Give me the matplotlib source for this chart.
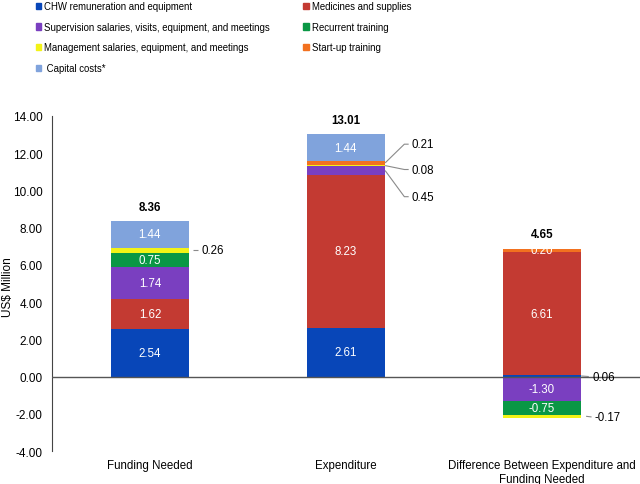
import matplotlib
matplotlib.use("Agg")
import matplotlib.pyplot as plt
from matplotlib.patches import Patch
import numpy as np

plt.rcParams['font.family'] = ['Liberation Sans', 'DejaVu Sans']

categories = ["Funding Needed", "Expenditure", "Difference Between Expenditure and\nFunding Needed"]
series_names = ["CHW remuneration and equipment", "Medicines and supplies",
                "Supervision salaries, visits, equipment, and meetings", "Recurrent training",
                "Management salaries, equipment, and meetings", "Start-up training",
                " Capital costs*"]
chw = [2.54, 2.61, 0.06]
medicines = [1.62, 8.23, 6.61]
supervision = [1.74, 0.45, -1.30]
recurrent = [0.75, 0.00, -0.75]
management = [0.26, 0.08, -0.17]
startup = [0.00, 0.21, 0.20]
capital = [1.44, 1.44, 0.00]
totals = [8.36, 13.01, 4.65]

series = [chw, medicines, supervision, recurrent, management, startup, capital]
colors = ["#0846b8", "#c33a32", "#7a3fc0", "#0a9745", "#f3f316", "#f2711f", "#80a3dc"]

inside = [
    [True, True, True, True, False, None, True],
    [True, True, False, None, False, False, True],
    [False, True, True, True, False, True, None],
]
# outside labels: (text x offset from bar edge, text y or None=segment centre, line start offset)
outside = {(0, 4): (0.062, None, 0.022),
           (1, 5): (0.137, 12.48, 0.0), (1, 4): (0.137, 11.12, 0.0),
           (1, 2): (0.137, 9.66, 0.0),
           (2, 0): (0.056, 0.0, 0.0), (2, 4): (0.07, -2.17, 0.025)}

fig = plt.figure(figsize=(6.4, 4.85), dpi=100)
ax = fig.add_axes([0.081, 0.068, 0.919, 0.691])

x = np.arange(len(categories))
width = 0.4
pos_base = np.zeros(len(categories))
neg_base = np.zeros(len(categories))
for si, (vals, col) in enumerate(zip(series, colors)):
    vals = np.array(vals, dtype=float)
    bottoms = np.where(vals >= 0, pos_base, neg_base)
    ax.bar(x, vals, width, bottom=bottoms, color=col, linewidth=0, zorder=2)
    for ci in range(len(categories)):
        v = vals[ci]
        if v == 0:
            continue
        center = bottoms[ci] + v / 2
        flag = inside[ci][si]
        if flag:
            ax.text(x[ci], center, f"{v:.2f}", ha='center', va='center',
                    color='white', fontsize=8.3, zorder=4)
        elif flag is False:
            tdx, ty, ldx = outside[(ci, si)]
            if ty is None:
                ty = center
            x0 = x[ci] + width / 2
            xend = x0 + tdx - 0.017
            if abs(ty - center) > 0.2:
                xs = [x0 + ldx, xend - 0.022, xend]
                ys = [center, ty, ty]
            else:
                xs = [x0 + ldx, xend]
                ys = [center, ty]
            ax.plot(xs, ys, color='#8a8a8a', lw=0.8, zorder=4, solid_capstyle='butt')
            ax.text(x0 + tdx, ty, f"{v:.2f}", ha='left', va='center',
                    fontsize=8.3, color='black', zorder=4)
    pos_base = pos_base + np.where(vals >= 0, vals, 0)
    neg_base = neg_base + np.where(vals < 0, vals, 0)

for ci in range(len(categories)):
    ax.annotate(f"{totals[ci]:.2f}", xy=(x[ci], pos_base[ci]), xytext=(0, 6),
                textcoords='offset points', ha='center', va='bottom',
                fontsize=8.3, fontweight='bold')

ax.axhline(0, color='#555555', lw=1.0, zorder=3)
ax.set_xlim(-0.5, 2.5)
ax.set_ylim(-4, 14)
ax.set_yticks(np.arange(-4, 15, 2))
ax.set_yticklabels([f"{t:.2f}" for t in np.arange(-4, 15, 2)], fontsize=8.5)
ax.set_xticks(x)
ax.set_xticklabels(categories, fontsize=8.3, linespacing=1.2)
ax.tick_params(axis='x', length=0, pad=6)
ax.tick_params(axis='y', length=0, pad=6.5)
for s in ['top', 'right', 'bottom']:
    ax.spines[s].set_visible(False)
ax.spines['left'].set_color('#444444')
fig.text(0.012, 0.408, "US$ Million", rotation=90, ha='center', va='center', fontsize=8.5)

handles = [Patch(color=c, label=n) for c, n in zip(colors, series_names)]
order = [0, 2, 4, 6, 1, 3, 5]
fig.legend([handles[i] for i in order], [series_names[i] for i in order],
           ncol=2, loc='upper left', bbox_to_anchor=(0.042, 1.013), frameon=False,
           fontsize=6.9, handlelength=0.6, handleheight=0.6, handletextpad=0.3,
           labelspacing=1.1, columnspacing=3.5)

fig.savefig("out.png", dpi=100)
